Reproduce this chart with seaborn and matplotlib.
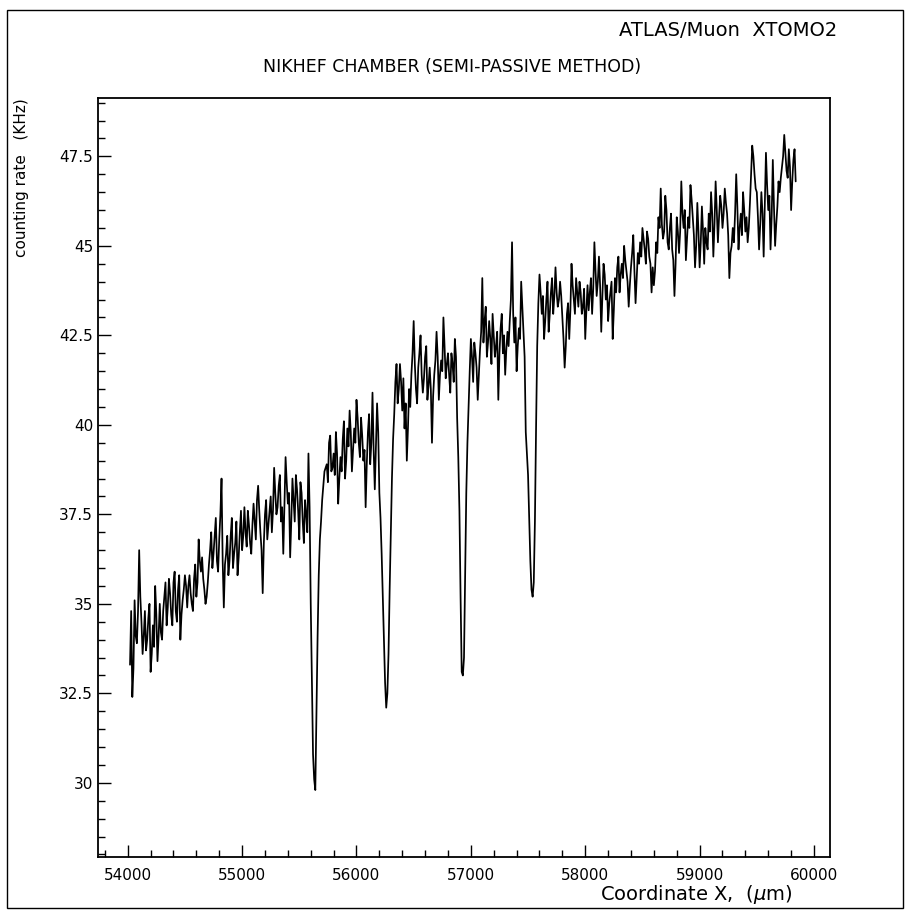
import numpy as np
import pandas as pd
import matplotlib
matplotlib.use('Agg')
from matplotlib import pyplot as plt
from matplotlib.ticker import MultipleLocator
from matplotlib.patches import Rectangle
import seaborn as sns

# scan positions (um): readings every 20 um, plus the ones in between
x_even = np.arange(54020, 59841, 20)
x_odd = np.arange(54030, 59831, 20)

# counting rate (KHz), 500 um per row
rate_even = [
    33.3, 32.4, 35.1, 33.9, 36.5, 34.5, 34.1, 33.7, 34.6, 33.1, 34.4, 35.5, 33.4, 35.0, 34.0, 35.2, 34.4, 35.7, 34.7, 35.6, 34.8, 35.4, 34.0, 35.1, 35.8,
    34.9, 35.8, 35.0, 35.7, 35.2, 36.8, 35.9, 35.7, 35.0, 35.6, 36.5, 36.0, 36.9, 36.2, 36.8, 38.5, 34.9, 36.4, 35.8, 36.9, 36.0, 36.7, 35.8, 37.0, 36.5,
    37.7, 36.6, 37.2, 36.4, 37.8, 36.8, 38.3, 37.0, 35.3, 37.5, 36.8, 37.6, 37.0, 38.8, 37.5, 38.3, 37.3, 36.4, 39.1, 37.8, 36.3, 38.5, 37.3, 38.2, 36.8,
    38.1, 36.7, 37.5, 39.2, 35.0, 30.8, 29.8, 34.1, 36.8, 37.9, 38.7, 38.9, 39.5, 38.7, 39.2, 39.8, 37.8, 39.1, 39.6, 38.5, 39.9, 40.4, 38.7, 39.9, 40.7,
    39.5, 40.2, 39.0, 37.7, 39.8, 38.9, 40.9, 38.2, 40.6, 38.1, 36.4, 33.9, 32.1, 33.6, 37.0, 39.6, 41.2, 40.6, 41.7, 40.4, 39.9, 39.0, 41.0, 41.4, 42.9,
    41.0, 41.6, 42.5, 40.9, 41.9, 40.7, 41.6, 39.5, 41.4, 42.6, 40.7, 41.8, 43.0, 41.3, 42.0, 40.9, 41.7, 42.4, 40.2, 37.6, 33.1, 33.5, 38.1, 40.5, 42.4,
    41.2, 42.0, 40.7, 42.1, 44.1, 42.9, 41.9, 42.9, 41.7, 42.5, 42.2, 40.7, 42.7, 42.0, 41.4, 42.6, 42.9, 45.1, 42.3, 41.5, 42.7, 44.0, 42.6, 39.8, 38.6,
    36.2, 35.2, 37.3, 42.2, 44.2, 43.1, 42.4, 43.5, 42.6, 43.7, 43.1, 44.4, 43.3, 44.0, 43.0, 41.6, 43.1, 42.4, 44.5, 43.5, 44.1, 43.3, 43.7, 43.3, 42.4,
    43.9, 43.7, 43.1, 45.1, 43.6, 44.7, 42.6, 44.5, 43.5, 42.9, 43.7, 42.4, 44.1, 44.4, 43.7, 44.5, 45.0, 44.3, 43.3, 44.4, 45.3, 43.4, 44.8, 45.1, 45.5,
    44.9, 45.4, 44.7, 43.7, 43.9, 45.1, 45.8, 46.6, 45.2, 46.4, 45.1, 45.5, 44.9, 43.6, 45.8, 44.8, 46.8, 45.5, 44.6, 45.8, 46.7, 45.8, 44.4, 46.2, 44.4,
    46.1, 44.5, 45.1, 45.9, 46.5, 44.7, 46.8, 45.1, 46.4, 45.5, 46.6, 45.9, 44.1, 45.0, 45.1, 47.0, 44.9, 45.9, 46.5, 45.4, 45.1, 46.2, 47.8, 47.0, 46.5,
    44.9, 46.5, 44.7, 47.6, 46.0, 44.9, 47.4, 45.0, 46.1, 46.5, 47.2, 48.1, 47.1, 47.7, 46.0, 47.4, 46.8,
]

rate_odd = [
    34.8, 33.2, 34.1, 34.8, 35.2, 33.6, 34.8, 34.0, 35.0, 33.6, 33.8, 34.7, 34.1, 34.2, 34.8, 35.6, 34.9, 35.3, 34.4, 35.9, 34.5, 35.8, 34.7, 35.4, 35.5,
    35.5, 35.3, 34.8, 36.1, 35.6, 36.2, 36.3, 35.4, 35.2, 36.1, 37.0, 36.4, 37.4, 35.9, 37.5, 36.2, 36.1, 36.9, 36.2, 37.4, 36.4, 37.3, 36.3, 37.6, 36.9,
    37.0, 37.6, 36.7, 37.2, 37.3, 37.9, 37.6, 36.5, 36.7, 37.9, 37.2, 38.0, 37.6, 38.1, 37.7, 38.6, 37.7, 37.8, 38.4, 38.1, 37.3, 37.9, 38.6, 37.6, 38.4,
    37.3, 37.9, 37.0, 37.7, 32.9, 30.1, 32.0, 35.8, 37.3, 38.3, 38.8, 38.4, 39.7, 38.8, 38.6, 39.2, 38.5, 38.7, 40.1, 39.0, 39.4, 39.8, 39.3, 39.5, 40.2,
    39.1, 39.7, 39.3, 38.9, 40.3, 39.5, 39.3, 39.4, 39.8, 37.4, 35.2, 32.8, 32.5, 35.4, 38.5, 40.3, 41.7, 41.0, 41.2, 41.3, 40.6, 39.9, 40.5, 42.0, 41.7,
    40.6, 42.0, 41.4, 41.3, 42.2, 41.1, 41.0, 40.8, 41.8, 41.9, 41.4, 41.5, 42.2, 41.7, 41.4, 42.0, 41.2, 41.9, 39.1, 35.2, 33.0, 35.7, 39.5, 41.5, 41.9,
    42.3, 41.6, 41.4, 42.6, 42.3, 43.3, 42.3, 42.4, 43.1, 41.9, 42.6, 42.0, 43.1, 42.5, 42.1, 42.2, 43.5, 43.1, 43.0, 42.2, 42.4, 43.3, 41.9, 39.2, 37.4,
    35.4, 35.6, 39.9, 43.4, 43.7, 43.6, 42.9, 44.0, 43.1, 44.1, 43.6, 43.7, 43.5, 43.6, 42.4, 42.2, 43.4, 43.2, 43.9, 43.1, 43.7, 44.0, 43.1, 43.8, 43.2,
    43.2, 44.1, 43.8, 44.3, 44.0, 43.9, 43.6, 44.2, 43.9, 43.4, 44.0, 43.2, 43.7, 44.7, 44.2, 44.1, 44.6, 44.0, 43.9, 44.8, 44.3, 44.1, 44.5, 44.7, 45.2,
    44.5, 45.2, 44.5, 44.4, 44.3, 44.8, 45.5, 45.6, 45.4, 46.0, 44.9, 45.9, 44.6, 44.5, 45.4, 45.4, 45.9, 46.0, 45.2, 45.5, 46.3, 45.3, 45.0, 45.4, 45.1,
    45.4, 45.5, 44.9, 45.4, 45.9, 45.6, 46.0, 45.8, 46.1, 45.9, 46.2, 45.3, 44.8, 45.5, 45.9, 46.1, 45.5, 45.3, 46.0, 45.8, 45.5, 47.0, 47.5, 46.6, 45.8,
    45.6, 45.9, 46.2, 46.7, 46.4, 45.8, 46.1, 45.6, 46.8, 46.9, 47.5, 47.6, 46.9, 47.2, 46.8, 47.7,
]

title = 'NIKHEF CHAMBER (SEMI-PASSIVE METHOD)'
tag = 'ATLAS/Muon  XTOMO2'

df = pd.concat([pd.DataFrame({'x': x_even, 'rate': rate_even}),
                pd.DataFrame({'x': x_odd, 'rate': rate_odd})]).sort_values('x')

sns.set_style('ticks')
plt.rcParams['font.family'] = ['DejaVu Sans']
for k in ['text.color', 'axes.labelcolor', 'xtick.color', 'ytick.color', 'axes.edgecolor']:
    plt.rcParams[k] = 'black'

W, H = 911, 910
fig = plt.figure(figsize=(W / 100, H / 100), dpi=100)
ax = fig.add_axes([98 / W, 1 - 857 / H, (830 - 98) / W, (857 - 98) / H])

sns.lineplot(data=df, x='x', y='rate', color='black', lw=1.25, ax=ax)

ax.set_xlim(53740, 60140)
ax.set_ylim(27.93, 49.13)
ax.xaxis.set_major_locator(MultipleLocator(1000))
ax.xaxis.set_minor_locator(MultipleLocator(200))
ax.yaxis.set_major_locator(MultipleLocator(2.5))
ax.yaxis.set_minor_locator(MultipleLocator(0.5))
ax.yaxis.set_major_formatter(lambda v, p: f'{v:g}')
ax.tick_params(which='both', direction='in', top=False, right=False, labelsize=11)
ax.tick_params(which='major', length=9, width=1)
ax.tick_params(which='minor', length=5, width=1)
ax.tick_params(axis='x', pad=8)
for s in ax.spines.values():
    s.set_linewidth(1.3)
ax.set_xlabel('')
ax.set_ylabel('')

fig.text(792 / W, 1 - 895 / H, r'Coordinate X,  ($\mu$m)', ha='right', va='center', fontsize=14)
fig.text(22 / W, 1 - 98 / H, 'counting rate   (KHz)', rotation=90, ha='center', va='top', fontsize=11)
fig.text(452 / W, 1 - 67 / H, title, ha='center', va='center', fontsize=12.5)
fig.text(837 / W, 1 - 30 / H, tag, ha='right', va='center', fontsize=14)

# outer frame of the page
fig.patches.append(Rectangle((7 / W, 2 / H), 896 / W, 898 / H, transform=fig.transFigure,
                             fill=False, edgecolor='black', lw=1))

fig.savefig('out.png', dpi=100, facecolor='white')
